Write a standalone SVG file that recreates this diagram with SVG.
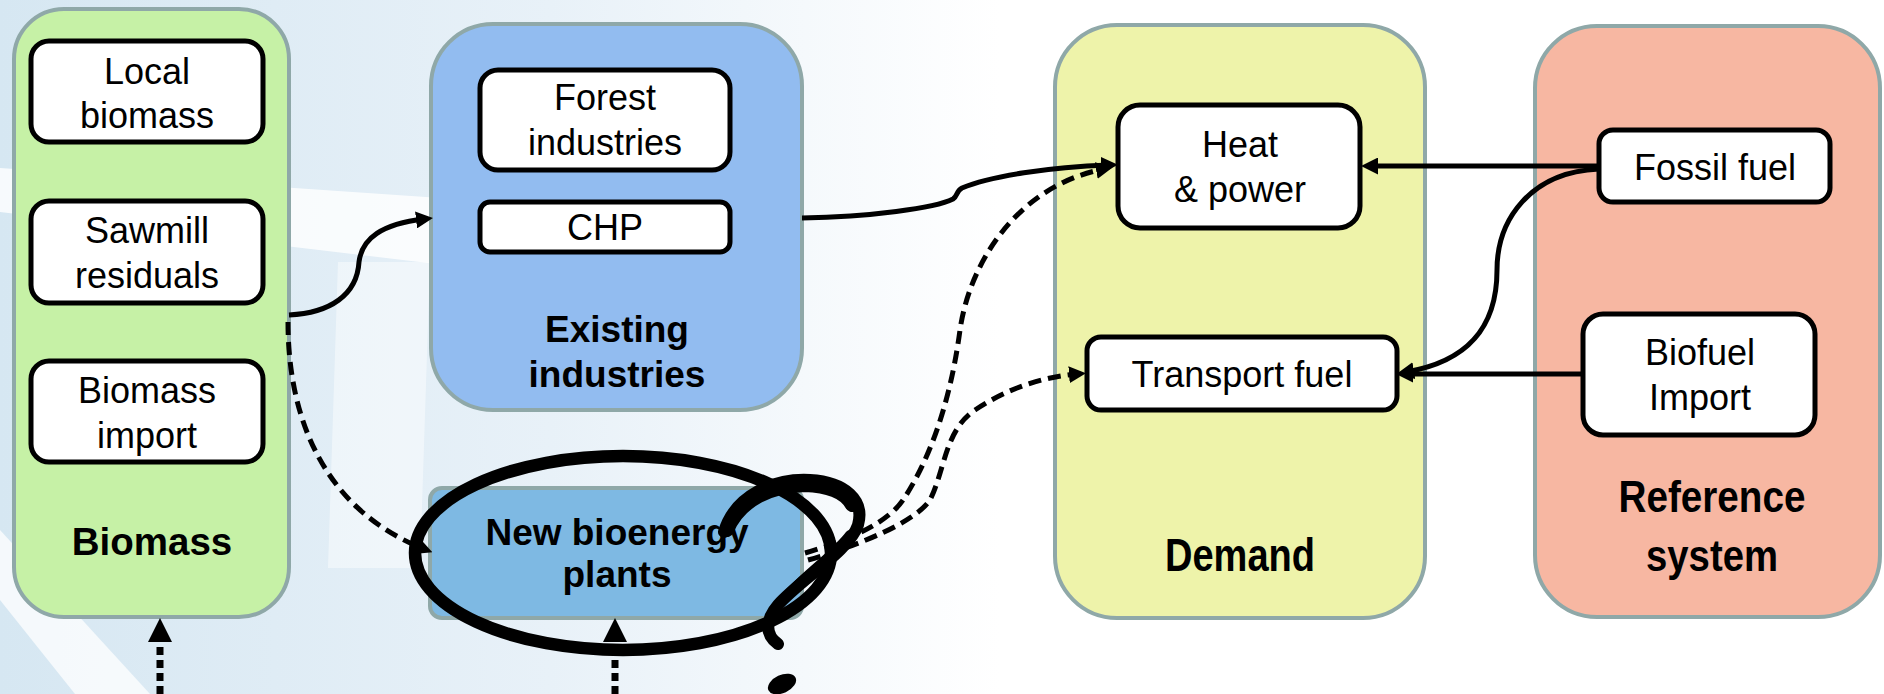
<svg xmlns="http://www.w3.org/2000/svg" width="1884" height="694" viewBox="0 0 1884 694">
  <style>
    .panel { stroke: #8fa8a8; stroke-width: 4; }
    .box { fill: #ffffff; stroke: #000000; stroke-width: 5; }
    .t { font-family: "Liberation Sans", Arial, sans-serif; font-size: 36px; fill: #000000; text-anchor: middle; }
    .tb { font-family: "Liberation Sans", Arial, sans-serif; font-weight: bold; fill: #000000; text-anchor: middle; }
    .solid { fill: none; stroke: #000000; stroke-width: 5; }
    .dash { fill: none; stroke: #000000; stroke-width: 5; stroke-dasharray: 13 7; }
    .dot { fill: none; stroke: #000000; stroke-width: 7; stroke-dasharray: 8 5; }
    .ann { fill: none; stroke: #000000; stroke-linecap: round; stroke-linejoin: round; }
  </style>
  <defs>
    <linearGradient id="bgL" x1="0" y1="0" x2="1" y2="0">
      <stop offset="0" stop-color="#d6e7f2"/>
      <stop offset="0.55" stop-color="#e8f1f8"/>
      <stop offset="1" stop-color="#ffffff"/>
    </linearGradient>
    <marker id="ah" markerUnits="userSpaceOnUse" viewBox="0 0 17 17" markerWidth="17" markerHeight="17" refX="8" refY="8.5" orient="auto">
      <path d="M0,0 L17,8.5 L0,17 z" fill="#000000"/>
    </marker>
    <marker id="ahBig" markerUnits="userSpaceOnUse" viewBox="0 0 24 24" markerWidth="24" markerHeight="24" refX="12" refY="12" orient="auto">
      <path d="M0,0 L24,12 L0,24 z" fill="#000000"/>
    </marker>
  </defs>

  <g id="background">
    <rect x="0" y="0" width="1884" height="694" fill="#ffffff"/>
    <rect x="0" y="0" width="1000" height="694" fill="url(#bgL)"/>
    <polygon points="0,168 470,200 470,268 0,212" fill="#ffffff" opacity="0.8"/>
    <polygon points="338,262 430,262 420,568 328,568" fill="#ffffff" opacity="0.45"/>
    <polygon points="0,530 0,600 75,694 150,694" fill="#ffffff" opacity="0.75"/>
  </g>

  <g id="biomass">
    <rect class="panel" x="14" y="9" width="275" height="608" rx="50" fill="#c6f1a6"/>
    <text class="tb" x="152" y="555" font-size="38.5">Biomass</text>
  </g>
  <g id="existing-industries">
    <rect class="panel" x="431" y="24" width="371" height="386" rx="62" fill="#92bcf0"/>
    <text class="tb" x="617" y="342" font-size="37">Existing</text>
    <text class="tb" x="617" y="387" font-size="37">industries</text>
  </g>
  <g id="new-bioenergy-plants">
    <rect class="panel" x="430" y="488" width="372" height="130" rx="12" fill="#7eb9e3"/>
    <text class="tb" x="617" y="545" font-size="37">New bioenergy</text>
    <text class="tb" x="617" y="587" font-size="37">plants</text>
  </g>
  <g id="demand">
    <rect class="panel" x="1055" y="25" width="370" height="593" rx="62" fill="#eef3aa"/>
    <text class="tb" x="1240" y="571" font-size="46" textLength="150" lengthAdjust="spacingAndGlyphs">Demand</text>
  </g>
  <g id="reference-system">
    <rect class="panel" x="1535" y="26" width="345" height="591" rx="62" fill="#f7b7a2"/>
    <text class="tb" x="1712" y="512" font-size="45" textLength="187" lengthAdjust="spacingAndGlyphs">Reference</text>
    <text class="tb" x="1712" y="571" font-size="45" textLength="132" lengthAdjust="spacingAndGlyphs">system</text>
  </g>

  <g id="local-biomass">
    <rect class="box" x="31" y="41" width="232" height="101" rx="18"/>
    <text class="t" x="147" y="84">Local</text>
    <text class="t" x="147" y="128">biomass</text>
  </g>
  <g id="sawmill-residuals">
    <rect class="box" x="31" y="201" width="232" height="102" rx="18"/>
    <text class="t" x="147" y="243">Sawmill</text>
    <text class="t" x="147" y="288">residuals</text>
  </g>
  <g id="biomass-import">
    <rect class="box" x="31" y="361" width="232" height="101" rx="18"/>
    <text class="t" x="147" y="403">Biomass</text>
    <text class="t" x="147" y="448">import</text>
  </g>
  <g id="forest-industries">
    <rect class="box" x="480" y="70" width="250" height="100" rx="18"/>
    <text class="t" x="605" y="110">Forest</text>
    <text class="t" x="605" y="155">industries</text>
  </g>
  <g id="chp">
    <rect class="box" x="480" y="202" width="250" height="50" rx="10"/>
    <text class="t" x="605" y="240">CHP</text>
  </g>
  <g id="heat-power">
    <rect class="box" x="1118" y="105" width="242" height="123" rx="22"/>
    <text class="t" x="1240" y="157">Heat</text>
    <text class="t" x="1240" y="202">&amp; power</text>
  </g>
  <g id="transport-fuel">
    <rect class="box" x="1087" y="337" width="310" height="73" rx="14"/>
    <text class="t" x="1242" y="387">Transport fuel</text>
  </g>
  <g id="fossil-fuel">
    <rect class="box" x="1599" y="130" width="231" height="72" rx="14"/>
    <text class="t" x="1715" y="180">Fossil fuel</text>
  </g>
  <g id="biofuel-import">
    <rect class="box" x="1583" y="314" width="232" height="121" rx="20"/>
    <text class="t" x="1700" y="365">Biofuel</text>
    <text class="t" x="1700" y="410">Import</text>
  </g>

  <g id="connectors">
    <path class="solid" d="M289,315 C330,313 357,295 359,262 C362,238 382,224 424,219" marker-end="url(#ah)"/>
    <path class="solid" d="M802,218 C870,217 935,208 953,199 C958,196 956,191 962,188 C990,176 1050,167 1109,165" marker-end="url(#ah)"/>
    <path class="dash" d="M288,322 C288,420 325,510 424,549" marker-end="url(#ah)"/>
    <path class="dash" d="M805,553 C850,540 890,522 905,497 C935,450 952,390 960,330 C970,260 1020,185 1104,169" marker-end="url(#ah)"/>
    <path class="dash" d="M808,560 C860,545 915,522 930,500 C945,470 945,430 975,410 C1005,390 1040,377 1077,374" marker-end="url(#ah)"/>
    <path class="solid" d="M1599,166 L1370,166" marker-end="url(#ah)"/>
    <path class="solid" d="M1599,169 C1530,172 1497,220 1497,270 C1497,330 1465,362 1406,372" marker-end="url(#ah)"/>
    <path class="solid" d="M1583,374 L1405,374" marker-end="url(#ah)"/>
    <path class="dot" d="M160,694 L160,630" marker-end="url(#ahBig)"/>
    <path class="dot" d="M615,694 L615,630" marker-end="url(#ahBig)"/>
  </g>

  <g id="annotation">
    <ellipse class="ann" cx="623" cy="553" rx="208" ry="97" stroke-width="12.5"/>
    <path class="ann" stroke-width="12" d="M724,532 C735,495 775,478 810,480 C845,482 865,500 858,525 C850,550 800,580 778,605 C765,620 765,635 778,644"/>
    <path class="ann" stroke-width="14" d="M727,530 C740,500 770,486 805,485 C830,486 845,492 852,505"/>
    <path class="ann" stroke-width="10" d="M850,535 C835,555 805,575 785,598"/>
    <ellipse cx="782" cy="684" rx="15" ry="9" transform="rotate(-25 782 684)" fill="#000000"/>
  </g>
</svg>
